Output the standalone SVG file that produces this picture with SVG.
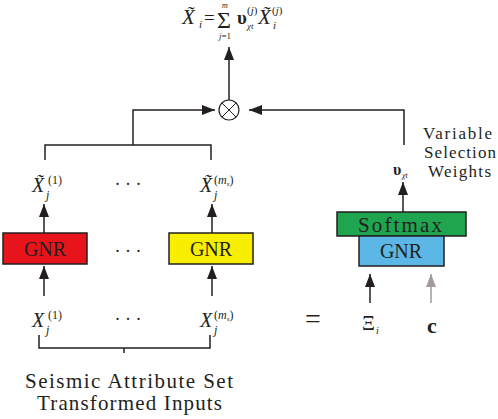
<svg xmlns="http://www.w3.org/2000/svg" width="498" height="419" viewBox="0 0 498 419">
<style>
text{font-family:"Liberation Serif","DejaVu Serif",serif;fill:#231f20}
.it{font-style:italic}
.ln{fill:none;stroke:#231f20;stroke-width:1.5}
.box{stroke:#231f20;stroke-width:1.5}
.lbl{font-size:20px;text-anchor:middle}
</style>
<defs>
<marker id="ah" viewBox="0 0 13 10" refX="13" refY="5" markerWidth="13" markerHeight="10" markerUnits="userSpaceOnUse" orient="auto"><path d="M0,0 L13,5 L0,10 z" fill="#231f20"/></marker>
<marker id="ahg" viewBox="0 0 13 10" refX="13" refY="5" markerWidth="13" markerHeight="10" markerUnits="userSpaceOnUse" orient="auto"><path d="M0,0 L13,5 L0,10 z" fill="#a39a9a"/></marker>
</defs>
<rect width="498" height="419" fill="#fff"/>

<g id="connectors">
<line class="ln" x1="229" y1="100" x2="229" y2="47" marker-end="url(#ah)"/>
<path class="ln" d="M45,160 V145 H211 V160"/>
<path class="ln" d="M133,145 V110 H215" marker-end="url(#ah)"/>
<path class="ln" d="M404,145 V110 H249" marker-end="url(#ah)"/>
<line class="ln" x1="44" y1="233" x2="44" y2="204" marker-end="url(#ah)"/>
<line class="ln" x1="212" y1="233" x2="212" y2="204" marker-end="url(#ah)"/>
<line class="ln" x1="44" y1="296" x2="44" y2="266" marker-end="url(#ah)"/>
<line class="ln" x1="212" y1="296" x2="212" y2="266" marker-end="url(#ah)"/>
<line class="ln" x1="403" y1="212" x2="403" y2="182" marker-end="url(#ah)"/>
<line class="ln" x1="370" y1="303" x2="370" y2="274" marker-end="url(#ah)"/>
<line x1="431" y1="303" x2="431" y2="274" stroke="#a39a9a" stroke-width="1.5" marker-end="url(#ahg)"/>
<path class="ln" d="M39,335 V348 H210 V335 M124,348 V353"/>
</g>

<g id="formula">
<text x="182" y="24" font-size="21" class="it">X̃</text>
<text x="199" y="28" font-size="11" class="it">i</text>
<text x="204" y="24" font-size="19">=</text>
<text x="217" y="28" font-size="24">Σ</text>
<text x="225" y="8" font-size="8" class="it" text-anchor="middle">m</text>
<text x="225" y="39" font-size="9" text-anchor="middle"><tspan class="it">j</tspan>=1</text>
<text x="237" y="24" font-size="19" font-weight="bold">υ</text>
<text x="247" y="14" font-size="11">(<tspan class="it">j</tspan>)</text>
<text x="247" y="29" font-size="9" class="it">χt</text>
<text x="258" y="24" font-size="21" class="it">X̃</text>
<text x="272" y="14" font-size="11">(<tspan class="it">j</tspan>)</text>
<text x="273" y="29" font-size="11" class="it">i</text>
</g>

<g id="mult">
<circle cx="229" cy="110" r="10" fill="#fff" stroke="#231f20" stroke-width="1.2"/>
<path d="M221.9,102.9 L236.1,117.1 M236.1,102.9 L221.9,117.1" stroke="#231f20" stroke-width="1"/>
</g>

<g id="xt1">
<text x="32" y="192" font-size="20" class="it">X̃</text>
<text x="48" y="184" font-size="12">(1)</text>
<text x="46" y="199" font-size="12" class="it">j</text>
</g>
<g id="xtm">
<text x="200" y="192" font-size="20" class="it">X̃</text>
<text x="214" y="184" font-size="12">(<tspan class="it">m</tspan><tspan font-size="7" dy="2" class="it">s</tspan><tspan dy="-2">)</tspan></text>
<text x="214" y="199" font-size="12" class="it">j</text>
</g>
<text x="128" y="190" font-size="18" text-anchor="middle">· · ·</text>

<g id="gnr1">
<rect class="box" x="3" y="233" width="84" height="31" fill="#e8141c"/>
<text class="lbl" x="45" y="256">GNR</text>
</g>
<text x="128" y="257" font-size="18" text-anchor="middle">· · ·</text>
<g id="gnrm">
<rect class="box" x="169" y="233" width="84" height="31" fill="#f8ef00"/>
<text class="lbl" x="211" y="256">GNR</text>
</g>

<g id="x1">
<text x="32" y="327" font-size="20" class="it">X</text>
<text x="48" y="319" font-size="12">(1)</text>
<text x="46" y="334" font-size="12" class="it">j</text>
</g>
<text x="128" y="325" font-size="18" text-anchor="middle">· · ·</text>
<g id="xm">
<text x="200" y="327" font-size="20" class="it">X</text>
<text x="214" y="319" font-size="12">(<tspan class="it">m</tspan><tspan font-size="7" dy="2" class="it">s</tspan><tspan dy="-2">)</tspan></text>
<text x="214" y="334" font-size="12" class="it">j</text>
</g>

<g id="inputs-label">
<text x="25" y="388" font-size="21" textLength="208" lengthAdjust="spacing">Seismic  Attribute Set</text>
<text x="37" y="410" font-size="21" textLength="185" lengthAdjust="spacing">Transformed Inputs</text>
</g>

<g id="weights">
<text x="393" y="175" font-size="16" font-weight="bold">υ</text>
<text x="402" y="178" font-size="8" class="it">χt</text>
<text x="423" y="139" font-size="17" textLength="69" lengthAdjust="spacing">Variable</text>
<text x="424" y="158" font-size="17" textLength="72" lengthAdjust="spacing">Selection</text>
<text x="428" y="177" font-size="17" textLength="63" lengthAdjust="spacing">Weights</text>
</g>

<g id="softmax">
<rect class="box" x="337" y="212" width="129" height="24" fill="#1fa54f"/>
<text x="358" y="232" font-size="21" textLength="84" lengthAdjust="spacing">Softmax</text>
</g>
<g id="gnrv">
<rect class="box" x="359" y="236" width="85" height="30" fill="#5cb6e6"/>
<text class="lbl" x="401" y="258" font-size="19">GNR</text>
</g>

<g id="eq">
<text x="305" y="328" font-size="28">=</text>
<text x="362" y="330" font-size="20">Ξ</text>
<text x="376" y="334" font-size="10" class="it">i</text>
<text x="427" y="333" font-size="22" font-weight="bold">c</text>
</g>
</svg>
